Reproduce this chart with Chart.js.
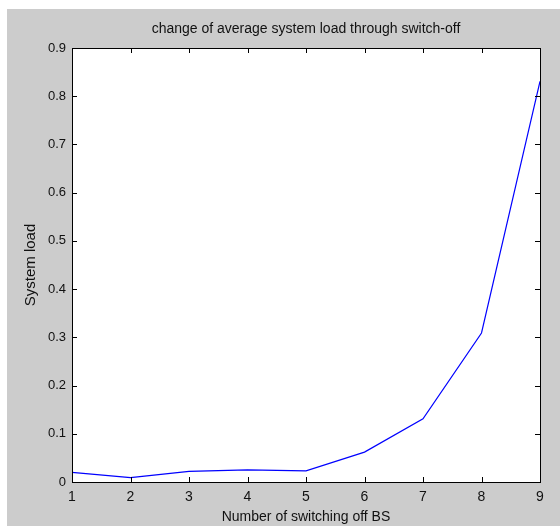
<!DOCTYPE html>
<html>
<head>
<meta charset="utf-8">
<script src="https://cdn.jsdelivr.net/npm/chart.js@4/dist/chart.umd.min.js"></script>
<style>
  html, body { margin: 0; padding: 0; background: #fff; }
  #wrap { width: 560px; height: 527px; }
</style>
</head>
<body>
<div id="wrap"><canvas id="chart" width="560" height="527"></canvas></div>
<script>
// MATLAB-style line plot: average system load vs number of switched-off BS.

const FONT = "'Liberation Sans', Arial, sans-serif";
const FIG_GRAY = '#cccccc';

const switchedOff = [1, 2, 3, 4, 5, 6, 7, 8, 9];
const systemLoad = [0.020, 0.009, 0.022, 0.025, 0.023, 0.062, 0.131, 0.309, 0.831];
const xTickValues = [1, 2, 3, 4, 5, 6, 7, 8, 9];
const yTickValues = [0, 0.1, 0.2, 0.3, 0.4, 0.5, 0.6, 0.7, 0.8, 0.9];

// --- Plugins ----------------------------------------------------------------

// gray figure background with a thin white margin top/left
const figureBg = {
  id: 'figureBg',
  beforeDraw(chart) {
    const { ctx, width, height } = chart;
    ctx.save();
    ctx.fillStyle = '#fff';
    ctx.fillRect(0, 0, width, height);
    ctx.fillStyle = FIG_GRAY;
    ctx.fillRect(7, 9, width - 7, height - 10);
    const a = chart.chartArea;
    ctx.fillStyle = '#fff';
    ctx.fillRect(a.left, a.top, a.right - a.left, a.bottom - a.top);
    ctx.restore();
  },
};

// box around axes + inward ticks on all four sides
const axesBox = {
  id: 'axesBox',
  afterDatasetsDraw(chart) {
    const { ctx, chartArea: a, scales: { x, y } } = chart;
    const len = 5;
    ctx.save();
    ctx.strokeStyle = '#000';
    ctx.lineWidth = 1;
    ctx.beginPath();
    for (const v of xTickValues) {
      const px = Math.round(x.getPixelForValue(v)) + 0.5;
      ctx.moveTo(px, a.bottom);
      ctx.lineTo(px, a.bottom - len);
      ctx.moveTo(px, a.top);
      ctx.lineTo(px, a.top + len);
    }
    for (const v of yTickValues) {
      const py = Math.round(y.getPixelForValue(v)) + 0.5;
      ctx.moveTo(a.left, py);
      ctx.lineTo(a.left + len, py);
      ctx.moveTo(a.right, py);
      ctx.lineTo(a.right - len, py);
    }
    ctx.stroke();
    ctx.strokeRect(Math.round(a.left) + 0.5, Math.round(a.top) + 0.5,
      Math.round(a.right - a.left), Math.round(a.bottom - a.top));
    ctx.restore();
  },
};

// --- Chart ------------------------------------------------------------------

new Chart(document.getElementById('chart'), {
  type: 'line',
  data: {
    datasets: [{
      data: switchedOff.map((v, i) => ({ x: v, y: systemLoad[i] })),
      borderColor: '#0000ff',
      borderWidth: 1.2,
      pointRadius: 0,
      tension: 0,
      fill: false,
    }],
  },
  options: {
    responsive: false,
    animation: false,
    layout: { padding: { left: 7, right: 20, top: 9, bottom: 0 } },
    plugins: {
      legend: { display: false },
      tooltip: { enabled: false },
      title: {
        display: true,
        fullSize: false,
        text: 'change of average system load through switch-off',
        color: '#111',
        font: { family: FONT, size: 14, weight: 'normal', lineHeight: 1.2 },
        padding: { top: 11.5, bottom: 10.7 },
      },
    },
    scales: {
      x: {
        type: 'linear',
        min: 1,
        max: 9,
        afterFit(scale) { scale.height = 45; },
        afterBuildTicks(scale) { scale.ticks = xTickValues.map(v => ({ value: v })); },
        grid: { display: false, drawTicks: false },
        border: { display: false },
        ticks: {
          color: '#111',
          padding: 7,
          maxRotation: 0,
          font: { family: FONT, size: 14 },
          callback: v => String(v),
        },
        title: {
          display: true,
          text: 'Number of switching off BS',
          color: '#111',
          font: { family: FONT, size: 14, lineHeight: 1.2 },
          padding: { top: 0, bottom: 1.6 },
        },
      },
      y: {
        type: 'linear',
        min: 0,
        max: 0.9,
        afterFit(scale) { scale.width = 65; },
        afterBuildTicks(scale) { scale.ticks = yTickValues.map(v => ({ value: v })); },
        grid: { display: false, drawTicks: false },
        border: { display: false },
        ticks: {
          color: '#111',
          padding: 6,
          font: { family: FONT, size: 13 },
          callback: v => String(Math.round(v * 10) / 10),
        },
        title: {
          display: true,
          text: 'System load',
          color: '#111',
          font: { family: FONT, size: 15, lineHeight: 1.2 },
          padding: { top: 15, bottom: 0 },
        },
      },
    },
  },
  plugins: [figureBg, axesBox],
});
</script>
</body>
</html>
